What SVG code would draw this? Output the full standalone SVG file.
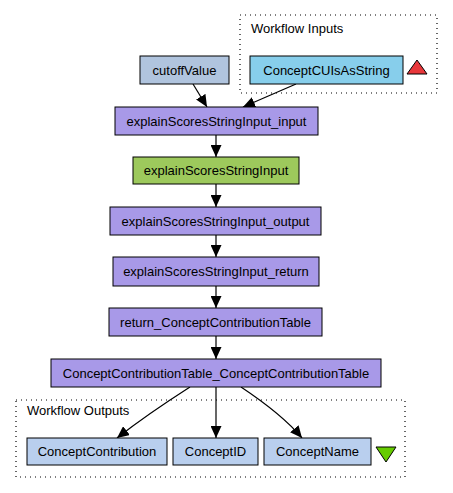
<svg xmlns="http://www.w3.org/2000/svg" width="453" height="493" viewBox="0 0 453 493">
<defs>
<style>
.n{stroke:#000;stroke-width:1}
.t{font-family:"Liberation Sans",Arial,sans-serif;font-size:13px;text-anchor:middle;fill:#000}
.lbl{font-family:"Liberation Sans",Arial,sans-serif;font-size:13px;fill:#000}
.cl{fill:none;stroke:#000;stroke-width:1.2;stroke-dasharray:1,4}
.e{fill:none;stroke:#000;stroke-width:1.2}
.p{fill:#a899e8}
.o{fill:#b9cfee}
</style>
<marker id="a" markerWidth="12" markerHeight="11" refX="12" refY="5.5" orient="auto" markerUnits="userSpaceOnUse" viewBox="0 0 12 11">
<path d="M0,0 L12,5.5 L0,11 z" fill="#000"/>
</marker>
</defs>
<rect width="453" height="493" fill="#fff"/>
<g id="cluster_inputs">
<rect class="cl" x="240" y="15" width="197" height="78"/>
<text class="lbl" x="251" y="33">Workflow Inputs</text>
</g>
<g id="cluster_outputs">
<rect class="cl" x="16" y="400" width="389" height="77"/>
<text class="lbl" x="27" y="415">Workflow Outputs</text>
</g>
<g id="connectors">
<path class="e" d="M193,84 L207,107" marker-end="url(#a)"/>
<path class="e" d="M296,84 L243,107" marker-end="url(#a)"/>
<path class="e" d="M216,135 L216,157" marker-end="url(#a)"/>
<path class="e" d="M216,184 L216,207" marker-end="url(#a)"/>
<path class="e" d="M216,235 L216,257" marker-end="url(#a)"/>
<path class="e" d="M216,286 L216,308" marker-end="url(#a)"/>
<path class="e" d="M216,336 L216,359" marker-end="url(#a)"/>
<path class="e" d="M190,387 C165,403 140,420 117,438" marker-end="url(#a)"/>
<path class="e" d="M216,387 L216,438" marker-end="url(#a)"/>
<path class="e" d="M241,387 C265,403 287,420 302,438" marker-end="url(#a)"/>
</g>
<g id="ConceptCUIsAsString">
<rect class="n" x="250" y="56" width="153" height="28" fill="#87ceeb"/>
<text class="t" x="326.5" y="74.5">ConceptCUIsAsString</text>
</g>
<g id="input_triangle">
<polygon points="417,60 427,74 407,74" fill="#e8373b" stroke="#000" stroke-width="1"/>
</g>
<g id="cutoffValue">
<rect class="n" x="140" y="56" width="89" height="28" fill="#b0c4de"/>
<text class="t" x="184.5" y="74.5">cutoffValue</text>
</g>
<g id="explainScoresStringInput_input">
<rect class="n p" x="115" y="107" width="203" height="28"/>
<text class="t" x="216.5" y="125.5">explainScoresStringInput_input</text>
</g>
<g id="explainScoresStringInput">
<rect class="n" x="133" y="157" width="166" height="27" fill="#9dc95c"/>
<text class="t" x="216" y="175">explainScoresStringInput</text>
</g>
<g id="explainScoresStringInput_output">
<rect class="n p" x="110" y="207" width="211" height="28"/>
<text class="t" x="215.5" y="225.5">explainScoresStringInput_output</text>
</g>
<g id="explainScoresStringInput_return">
<rect class="n p" x="113" y="257" width="206" height="29"/>
<text class="t" x="216" y="276">explainScoresStringInput_return</text>
</g>
<g id="return_ConceptContributionTable">
<rect class="n p" x="109" y="308" width="213" height="28"/>
<text class="t" x="215.5" y="326.5">return_ConceptContributionTable</text>
</g>
<g id="ConceptContributionTable_ConceptContributionTable">
<rect class="n p" x="51" y="359" width="330" height="28"/>
<text class="t" x="216" y="377.5">ConceptContributionTable_ConceptContributionTable</text>
</g>
<g id="ConceptContribution">
<rect class="n o" x="27" y="438" width="140" height="27"/>
<text class="t" x="97" y="456">ConceptContribution</text>
</g>
<g id="ConceptID">
<rect class="n o" x="173" y="438" width="85" height="27"/>
<text class="t" x="215.5" y="456">ConceptID</text>
</g>
<g id="ConceptName">
<rect class="n o" x="264" y="438" width="107" height="27"/>
<text class="t" x="317.5" y="456">ConceptName</text>
</g>
<g id="output_triangle">
<polygon points="376,447 396,447 386,462" fill="#66cc00" stroke="#000" stroke-width="1"/>
</g>
</svg>
